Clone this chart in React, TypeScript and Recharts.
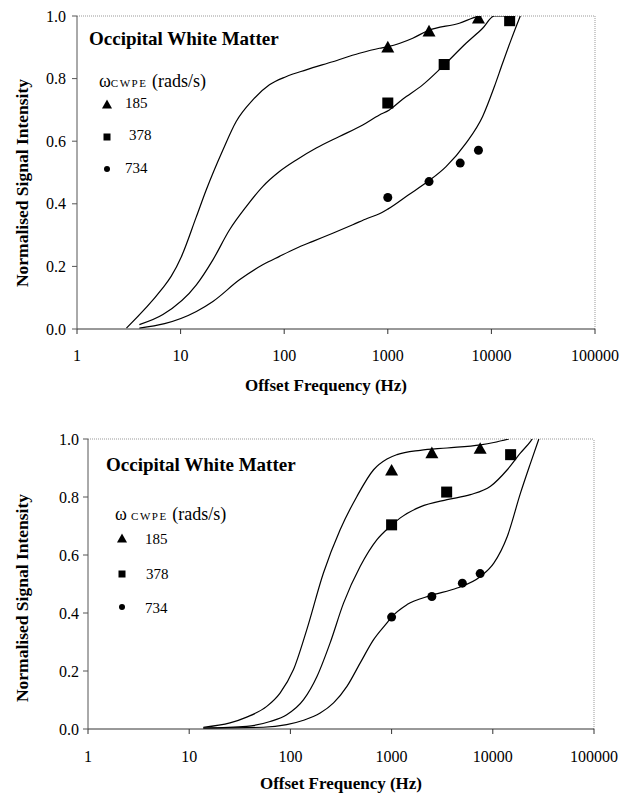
import React from 'react';
import { ComposedChart, Line, Scatter, XAxis, YAxis, ReferenceLine } from 'recharts';

// frequency (Hz), normalised intensity
const freqTicks = [1, 10, 100, 1000, 10000, 100000];
const intensityTicks = [0, 0.2, 0.4, 0.6, 0.8, 1.0];
const seriesNames = ['185', '378', '734'];

// upper panel: fitted curves
const top185Curve = [[3, 0.003], [6.5, 0.125], [8.1, 0.168], [10.2, 0.232], [14.2, 0.359], [17.7, 0.445], [25.6, 0.572], [34.4, 0.663], [49.8, 0.732], [72, 0.78], [104, 0.806], [163, 0.828], [294, 0.854], [532, 0.881], [830, 0.897], [1000, 0.902], [1740, 0.929], [2430, 0.953], [4900, 0.977], [7360, 0.998], [8000, 1.0]];
const top378Curve = [[4, 0.014], [6.75, 0.046], [14.2, 0.141], [20.5, 0.221], [29.7, 0.317], [43, 0.391], [62, 0.455], [90, 0.503], [131, 0.54], [204, 0.578], [341, 0.615], [573, 0.652], [830, 0.684], [1035, 0.7], [1390, 0.734], [2170, 0.78], [3510, 0.844], [5690, 0.913], [8230, 0.961], [10670, 1.0], [14900, 1.0]];
const top734Curve = [[4, 0.003], [7, 0.017], [14.2, 0.056], [20.5, 0.088], [37, 0.157], [62, 0.205], [90, 0.232], [131, 0.258], [189, 0.28], [294, 0.306], [459, 0.333], [640, 0.354], [830, 0.368], [1000, 0.383], [1590, 0.429], [2430, 0.471], [3650, 0.519], [5690, 0.594], [8230, 0.679], [10670, 0.774], [12820, 0.849], [15450, 0.923], [19000, 1.0]];

// upper panel: measured points
const top185Points = [[1000, 0.902], [2500, 0.953], [7500, 0.995]];
const top378Points = [[1000, 0.722], [3500, 0.845], [15000, 0.985]];
const top734Points = [[1000, 0.42], [2500, 0.471], [5000, 0.53], [7500, 0.571]];

// lower panel: fitted curves
const bot185Curve = [[13.8, 0.006], [25.3, 0.021], [37, 0.041], [58.4, 0.078], [79, 0.124], [107, 0.204], [145, 0.342], [212, 0.538], [310, 0.687], [454, 0.802], [664, 0.894], [900, 0.931], [1130, 0.946], [1920, 0.961], [3530, 0.969], [7550, 0.98], [10230, 0.988], [14400, 1.0]];
const bot378Curve = [[13.8, 0.003], [37, 0.009], [63, 0.026], [92, 0.049], [135, 0.101], [183, 0.181], [247, 0.297], [335, 0.434], [490, 0.561], [717, 0.653], [970, 0.699], [1220, 0.728], [1920, 0.766], [3530, 0.791], [6010, 0.808], [9490, 0.837], [13900, 0.894], [18800, 0.952], [23600, 0.992], [24500, 1.0]];
const bot734Curve = [[13.8, 0.003], [54, 0.006], [92, 0.015], [135, 0.03], [197, 0.055], [267, 0.09], [362, 0.147], [490, 0.228], [664, 0.308], [900, 0.366], [1000, 0.386], [1420, 0.429], [2420, 0.46], [4440, 0.486], [7550, 0.526], [10230, 0.572], [13900, 0.664], [18800, 0.814], [23600, 0.917], [28500, 1.0]];

// lower panel: measured points
const bot185Points = [[1000, 0.894], [2500, 0.954], [7500, 0.969]];
const bot378Points = [[1000, 0.704], [3500, 0.817], [15000, 0.946]];
const bot734Points = [[1000, 0.386], [2500, 0.457], [5000, 0.503], [7500, 0.536]];

const toPts = (arr: number[][]) => arr.map(([f, v]) => ({ f, v }));

const FONT = '"Liberation Serif", "Times New Roman", serif';

const Marker = ({ kind, cx, cy, s }: { kind: string; cx: number; cy: number; s: number }) => {
  if (kind === 'triangle') {
    const h = s * 0.9;
    return <polygon points={`${cx},${cy - h / 2} ${cx + s / 2},${cy + h / 2} ${cx - s / 2},${cy + h / 2}`} fill="#000" />;
  }
  if (kind === 'square') {
    return <rect x={cx - s / 2} y={cy - s / 2} width={s} height={s} fill="#000" />;
  }
  return <circle cx={cx} cy={cy} r={s / 2} fill="#000" />;
};

const kinds = ['triangle', 'square', 'circle'];
const plotSizes = [13, 11, 9];
const legendSizes = [10, 7, 6];

type PanelProps = {
  top: number;
  height: number;
  margin: { top: number; right: number; left: number; bottom: number };
  curves: number[][][];
  points: number[][][];
  tickMarginX: number;
  tickMarginY: number;
  text: {
    yTitle: [number, number];
    xTitle: [number, number];
    title: [number, number];
    omega: [number, number];
    omegaGap: string;
    legendX: number;
    textX: number[];
    legendY: number[];
    textY: number[];
  };
};

const Panel = ({ top, height, margin, curves, points, tickMarginX, tickMarginY, text }: PanelProps) => (
  <div style={{ position: 'absolute', left: 0, top, width: 620, height }}>
    <ComposedChart width={620} height={height} margin={margin}>
      <XAxis
        type="number"
        dataKey="f"
        scale="log"
        domain={[1, 100000]}
        ticks={freqTicks}
        allowDataOverflow
        height={65}
        tickSize={5}
        tickMargin={tickMarginX}
        stroke="#333"
        tick={{ fill: '#000', fontSize: 16, fontFamily: FONT }}
        tickFormatter={(v: number) => String(v)}
      />
      <YAxis
        type="number"
        dataKey="v"
        domain={[0, 1]}
        ticks={intensityTicks}
        allowDataOverflow
        width={60}
        tickSize={5}
        tickMargin={tickMarginY}
        stroke="#555"
        tick={{ fill: '#000', fontSize: 16, fontFamily: FONT }}
        tickFormatter={(v: number) => v.toFixed(1)}
      />
      <ReferenceLine y={1} stroke="#999" strokeDasharray="1 1" />
      <ReferenceLine x={100000} stroke="#999" strokeDasharray="1 1" />
      {curves.map((c, i) => (
        <Line
          key={`c${i}`}
          data={toPts(c)}
          dataKey="v"
          type="monotone"
          stroke="#000"
          strokeWidth={1.2}
          dot={false}
          isAnimationActive={false}
        />
      ))}
      {points.map((p, i) => (
        <Scatter
          key={`p${i}`}
          name={seriesNames[i]}
          data={toPts(p)}
          dataKey="v"
          isAnimationActive={false}
          shape={(props: any) => <Marker kind={kinds[i]} cx={props.cx} cy={props.cy} s={plotSizes[i]} />}
        />
      ))}
    </ComposedChart>
    <svg width={620} height={height} style={{ position: 'absolute', left: 0, top: 0, pointerEvents: 'none' }} fontFamily={FONT}>
      <text
        x={text.yTitle[0]}
        y={text.yTitle[1]}
        transform={`rotate(-90 ${text.yTitle[0]} ${text.yTitle[1]})`}
        textAnchor="middle"
        dominantBaseline="central"
        fontWeight="bold"
        fontSize={17.5}
      >
        Normalised Signal Intensity
      </text>
      <text x={text.xTitle[0]} y={text.xTitle[1]} textAnchor="middle" fontWeight="bold" fontSize={17}>
        Offset Frequency (Hz)
      </text>
      <text x={text.title[0]} y={text.title[1]} fontWeight="bold" fontSize={19}>
        Occipital White Matter
      </text>
      <text x={text.omega[0]} y={text.omega[1]} fontSize={18}>
        ω<tspan fontSize={11} letterSpacing={1.5}>{text.omegaGap}CWPE</tspan> (rads/s)
      </text>
      {seriesNames.map((name, i) => (
        <g key={name}>
          <Marker kind={kinds[i]} cx={text.legendX} cy={text.legendY[i]} s={legendSizes[i]} />
          <text x={text.textX[i]} y={text.textY[i]} fontSize={15}>
            {name}
          </text>
        </g>
      ))}
    </svg>
  </div>
);

const App = () => (
  <div style={{ position: 'absolute', left: 0, top: 0, width: 620, height: 795, background: '#fff' }}>
    <Panel
      top={0}
      height={400}
      margin={{ top: 16, right: 25, left: 17, bottom: 6 }}
      curves={[top185Curve, top378Curve, top734Curve]}
      points={[top185Points, top378Points, top734Points]}
      tickMarginX={16}
      tickMarginY={6}
      text={{
        yTitle: [22, 183],
        xTitle: [326, 391],
        title: [89, 45],
        omega: [99, 87],
        omegaGap: '',
        legendX: 107,
        textX: [125, 129, 125],
        legendY: [104, 137, 169],
        textY: [108, 140, 173],
      }}
    />
    <Panel
      top={400}
      height={395}
      margin={{ top: 39, right: 26, left: 28, bottom: 1 }}
      curves={[bot185Curve, bot378Curve, bot734Curve]}
      points={[bot185Points, bot378Points, bot734Points]}
      tickMarginX={17}
      tickMarginY={4}
      text={{
        yTitle: [22, 198],
        xTitle: [341, 389],
        title: [106, 71],
        omega: [115, 120],
        omegaGap: ' ',
        legendX: 122,
        textX: [145, 146, 145],
        legendY: [138, 174, 207],
        textY: [144, 179, 213],
      }}
    />
  </div>
);

export default App;
